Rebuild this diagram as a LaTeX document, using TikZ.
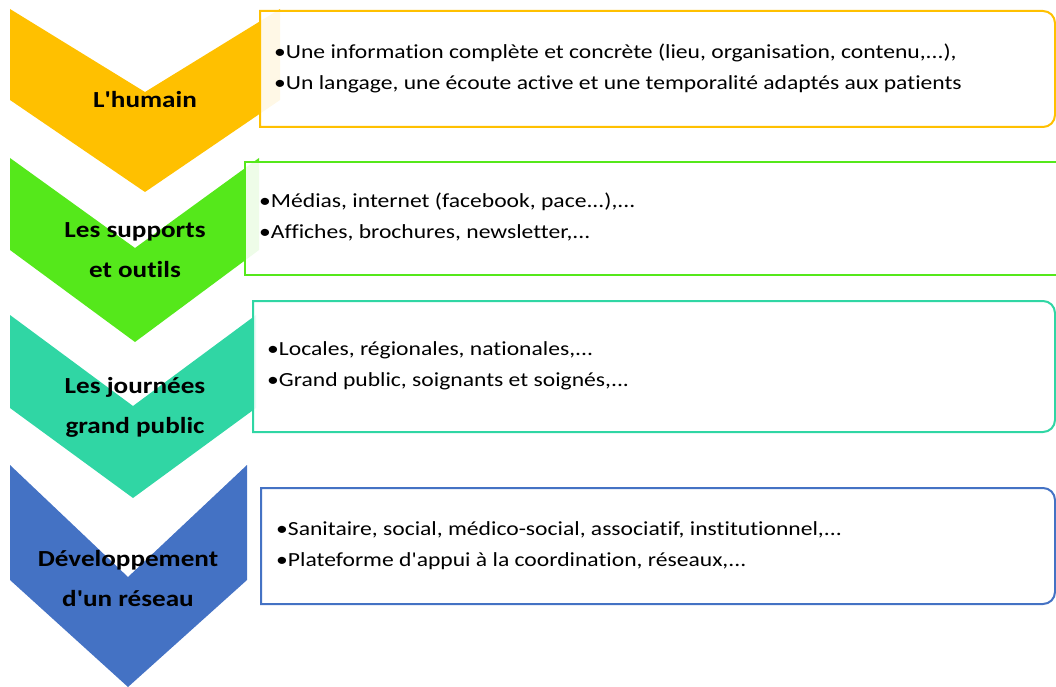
\documentclass[tikz,border=0pt]{standalone}
\usepackage{graphicx}
\usepackage{fontspec}
\setmainfont{Carlito}[Ligatures=NoCommon]
\definecolor{cyel}{HTML}{FFC000}
\definecolor{cgrn}{HTML}{55E81B}
\definecolor{cteal}{HTML}{30D6A4}
\definecolor{cblue}{HTML}{4472C4}
\newcommand\hs[1]{\scalebox{1.18}[1]{#1}}
\newcommand\apos{\textquotesingle}
\tikzset{
  infobox/.style={line width=2pt, fill=white, fill opacity=0.9},
  lbl/.style={font=\fontsize{23}{40}\selectfont\bfseries, align=center, inner sep=0pt},
  txt/.style={font=\fontsize{20}{31}\selectfont, anchor=west, inner sep=0pt}
}
\begin{document}
\begin{tikzpicture}[x=1pt,y=-1pt]
\useasboundingbox (0,0) rectangle (1056,687);
% chevrons
\fill[cyel]  (10,9) -- (145,92) -- (280,9) -- (280,100) -- (145,192) -- (10,100) -- cycle;
\fill[cgrn]  (10,158) -- (135,248) -- (259,158) -- (259,250) -- (135,342) -- (10,250) -- cycle;
\fill[cteal] (10,315) -- (133,406) -- (256,315) -- (256,408) -- (133,498) -- (10,408) -- cycle;
\fill[cblue] (10,465) -- (128,577) -- (247,465) -- (247,580) -- (128,687) -- (10,580) -- cycle;
% boxes
\path[infobox, draw=cyel] (260,11) -- (1043,11) arc[start angle=-90,end angle=0,radius=12] -- (1055,115) arc[start angle=0,end angle=90,radius=12] -- (260,127) -- cycle;
\path[infobox, draw=cgrn] (245,162) -- (1080,162) -- (1080,275) -- (245,275) -- cycle;
\path[infobox, draw=cteal] (253,301) -- (1043,301) arc[start angle=-90,end angle=0,radius=12] -- (1055,420) arc[start angle=0,end angle=90,radius=12] -- (253,432) -- cycle;
\path[infobox, draw=cblue] (261,488) -- (1043,488) arc[start angle=-90,end angle=0,radius=12] -- (1055,592) arc[start angle=0,end angle=90,radius=12] -- (261,604) -- cycle;
% labels
\node[lbl] (l1) at (145,100) {\hs{L\apos humain}};
\node[lbl] (l2) at (135,250) {\hs{Les supports}\\\hs{et outils}};
\node[lbl] (l3) at (135,407) {\hs{Les journées}\\\hs{grand public}};
\node[lbl] (l4) at (128,579) {\hs{Développement}\\\hs{d\apos un réseau}};
% texts
\node[txt] (t1a) at (274,53) {\hs{•Une information complète et concrète (lieu, organisation, contenu,...),}};
\node[txt] (t1b) at (274,84) {\hs{•Un langage, une écoute active et une temporalité adaptés aux patients}};
\node[txt] (t2a) at (259,202) {\hs{•Médias, internet (facebook, pace...),...}};
\node[txt] (t2b) at (259,233) {\hs{•Affiches, brochures, newsletter,...}};
\node[txt] (t3a) at (267,350) {\hs{•Locales, régionales, nationales,...}};
\node[txt] (t3b) at (267,381) {\hs{•Grand public, soignants et soignés,...}};
\node[txt] (t4a) at (276,530) {\hs{•Sanitaire, social, médico-social, associatif, institutionnel,...}};
\node[txt] (t4b) at (276,561) {\hs{•Plateforme d\apos appui à la coordination, réseaux,...}};
\end{tikzpicture}
\end{document}
